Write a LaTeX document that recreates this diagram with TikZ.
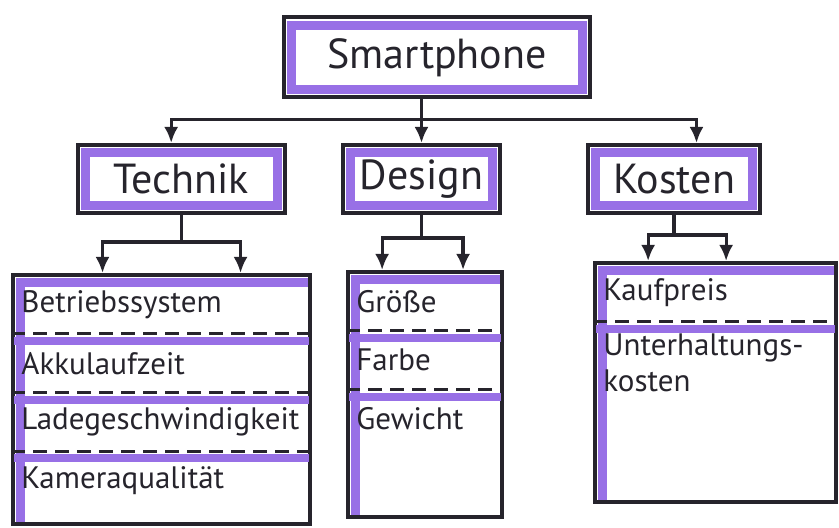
\documentclass[tikz,border=0pt]{standalone}
\usepackage{fontspec}
\setmainfont{PT Sans}
\usetikzlibrary{arrows.meta}
\definecolor{ink}{RGB}{38,36,44}
\definecolor{marker}{RGB}{152,112,230}

\begin{document}
\begin{tikzpicture}[
   x=1pt,y=1pt,
   head/.style={draw=ink,text=ink,fill=white,line width=2pt,minimum height=34pt,inner sep=5pt,font=\fontsize{21}{24}\selectfont,
     path picture={\draw[marker,line width=4.5pt] ([shift={(3.9pt,-3.9pt)}]path picture bounding box.north west) rectangle ([shift={(-3.9pt,3.9pt)}]path picture bounding box.south east);}},
   list/.style={draw=ink,fill=white,line width=2pt,
     path picture={\draw[marker,line width=4.5pt] ([shift={(3.9pt,0pt)}]path picture bounding box.south west) |- ([shift={(0pt,-3.9pt)}]path picture bounding box.north east);}},
   item/.style={anchor=north west,minimum height=29pt,inner xsep=3pt,inner ysep=6pt,align=left,text=ink,font=\fontsize{15.5}{18}\selectfont},
   to/.style={-{Latex[length=8pt,width=7pt]},draw=ink,line width=1.6pt},
   link/.style={draw=ink,line width=1.6pt},
   sep/.style={draw=ink,line width=1.6pt,dash pattern=on 7pt off 4pt},
   band/.style={draw=marker,line width=4pt,shorten <=1.5pt,shorten >=1.5pt}]
\useasboundingbox (0,0) rectangle (419.5,-264);

% Oberbegriff und Kategorien
\node[head,minimum width=153pt,minimum height=40pt] (smart) at (218.5,-28.75) {Smartphone};
\node[head,minimum width=103.5pt] (technik) at (90.75,-89.5) {Technik};
\node[head,minimum width=78.5pt] (design) at (210.75,-89.5) {Design};
\node[head,minimum width=86pt] (kosten) at (337,-89.5) {Kosten};

% Listen
\node[list,minimum width=148.5pt,minimum height=124.5pt] (techlist) at (80.75,-199.75) {};
\node[list,minimum width=77pt,minimum height=122.5pt] (designlist) at (212.5,-197.25) {};
\node[list,minimum width=120.5pt,minimum height=119.5pt] (kostenlist) at (357.75,-191.25) {};

\node[item] (betr) at ([shift={(2pt,-1pt)}]techlist.north west) {Betriebssystem};
\node[item] (akku) at (betr.south west) {Akkulaufzeit};
\node[item] (lade) at (akku.south west) {Ladegeschwindigkeit};
\node[item] (kamera) at (lade.south west) {Kameraqualität};

\node[item] (groesse) at ([shift={(2pt,-1pt)}]designlist.north west) {Größe};
\node[item] (farbe) at (groesse.south west) {Farbe};
\node[item] (gewicht) at (farbe.south west) {Gewicht};

\node[item] (kauf) at ([shift={(2pt,-1pt)}]kostenlist.north west) {Kaufpreis};
\node[item] (unterhalt) at (kauf.south west) {Unterhaltungs-\\kosten};

% Trennlinien
\draw[band] ([yshift=-3.5pt]techlist.west |- betr.south) -- ([yshift=-3.5pt]techlist.east |- betr.south);
\draw[sep] (techlist.west |- betr.south) -- (techlist.east |- betr.south);
\draw[band] ([yshift=-3.5pt]techlist.west |- akku.south) -- ([yshift=-3.5pt]techlist.east |- akku.south);
\draw[sep] (techlist.west |- akku.south) -- (techlist.east |- akku.south);
\draw[band] ([yshift=-3.5pt]techlist.west |- lade.south) -- ([yshift=-3.5pt]techlist.east |- lade.south);
\draw[sep] (techlist.west |- lade.south) -- (techlist.east |- lade.south);
\draw[band] ([yshift=-3.5pt]designlist.west |- groesse.south) -- ([yshift=-3.5pt]designlist.east |- groesse.south);
\draw[sep] (designlist.west |- groesse.south) -- (designlist.east |- groesse.south);
\draw[band] ([yshift=-3.5pt]designlist.west |- farbe.south) -- ([yshift=-3.5pt]designlist.east |- farbe.south);
\draw[sep] (designlist.west |- farbe.south) -- (designlist.east |- farbe.south);
\draw[band] ([yshift=-3.5pt]kostenlist.west |- kauf.south) -- ([yshift=-3.5pt]kostenlist.east |- kauf.south);
\draw[sep] (kostenlist.west |- kauf.south) -- (kostenlist.east |- kauf.south);

% Verbindungen
\coordinate (split) at ([yshift=-10pt]smart.south -| design.north);
\draw[link] (smart.south -| design.north) -- (split);
\draw[to] (split) -- (design.north);
\draw[to] (split) -| (technik.106);
\draw[to] (split) -| (kosten.58);

\coordinate (tsplit) at ([yshift=-13.5pt]technik.south);
\draw[link] (technik.south) -- (tsplit);
\draw[to] (tsplit) -| (techlist.115);
\draw[to] (tsplit) -| (techlist.58);

\coordinate (dsplit) at ([yshift=-11.5pt]design.south);
\draw[link] (design.south) -- (dsplit);
\draw[to] (dsplit) -| (designlist.109);
\draw[to] (dsplit) -| (designlist.73);

\coordinate (ksplit) at ([yshift=-10pt]kosten.south);
\draw[link] (kosten.south) -- (ksplit);
\draw[to] (ksplit) -| (kostenlist.119);
\draw[to] (ksplit) -| (kostenlist.85);
\end{tikzpicture}
\end{document}
